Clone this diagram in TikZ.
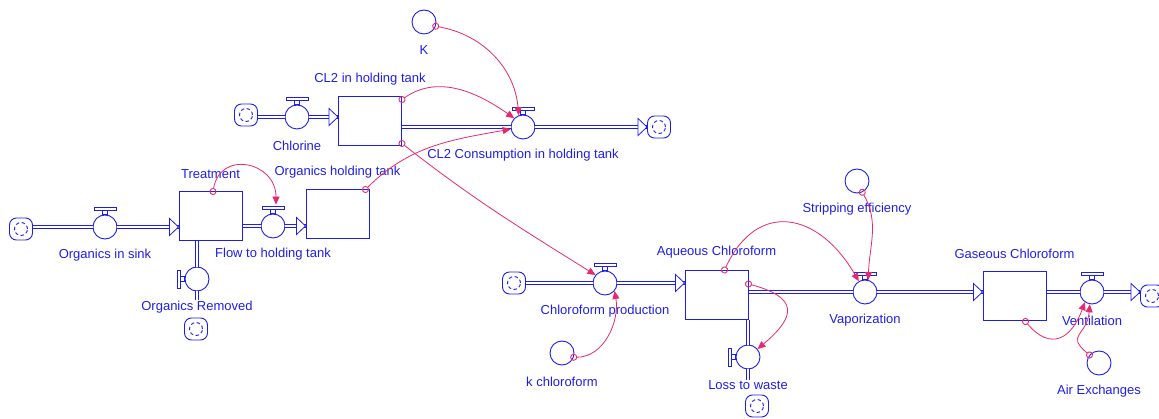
\documentclass[tikz,border=0pt]{standalone}
\usepackage{fontspec}
\setmainfont{Liberation Sans}
\usetikzlibrary{arrows.meta, positioning}
\definecolor{vblue}{RGB}{30,30,235}
\definecolor{vlink}{RGB}{232,40,110}
\newcommand{\handleup}[1]{\draw[vblue, line width=0.8pt, fill=white]
  ([xshift=-2.5pt]#1.north) rectangle ([xshift=2.5pt,yshift=4pt]#1.north)
  ([xshift=-11pt,yshift=4pt]#1.north) rectangle ([xshift=11pt,yshift=7.5pt]#1.north);}
\newcommand{\handleleft}[1]{\draw[vblue, line width=0.8pt, fill=white]
  ([yshift=-2.5pt]#1.west) rectangle ([yshift=2.5pt,xshift=-4pt]#1.west)
  ([yshift=-9pt,xshift=-4pt]#1.west) rectangle ([yshift=9pt,xshift=-7.5pt]#1.west);}
\newcommand{\flowtip}[1]{\draw[vblue, line width=0.8pt, fill=white] (#1) -- ++(-9,-8.5) -- ++(0,17) -- cycle;}

\begin{document}
\begin{tikzpicture}[x=1pt, y=-1pt, node distance=28.5pt,
    stock/.style={draw=vblue, line width=1pt, fill=white, minimum width=63pt, minimum height=49pt, inner sep=0pt},
    valve/.style={circle, draw=vblue, line width=0.9pt, fill=white, minimum size=24pt, inner sep=0pt},
    aux/.style={circle, draw=vblue, line width=0.9pt, minimum size=24pt, inner sep=0pt},
    srcsink/.style={draw=vblue, line width=0.9pt, rounded corners=7pt, minimum width=23pt, minimum height=22pt, inner sep=0pt,
      path picture={\draw[vblue, line width=0.9pt, dash pattern=on 3.5pt off 2.5pt] (path picture bounding box.center) circle (6.5pt);}},
    lbl/.style={text=vblue, font=\fontsize{13}{15}\selectfont, inner sep=1pt},
    pipe/.style={draw=vblue, line width=0.8pt, double=white, double distance=2pt},
    link/.style={vlink, line width=0.8pt, shorten <=-3.5pt, {Circle[open, length=7pt, width=7pt, line width=0.9pt]}-{Triangle[length=8pt, width=7pt]}}]
\useasboundingbox (0,0) rectangle (1159,419);

\node[stock] (treat) at (210.5,216.5) {};
\node[stock] (ohold) at (337.5,214.5) {};
\node[stock] (cl2) at (370,121.5) {};
\node[stock] (aq) at (716.5,295) {};
\node[stock] (gas) at (1014.5,296.5) {};

\node[valve] (vSink) at (105,227) {};
\node[valve] (vFlow) at (273,226) {};
\node[valve] (vRem) at (197,279) {};
\node[valve] (vChl) at (297,117) {};
\node[valve] (vCons) at (523,127) {};
\node[valve] (vProd) at (605,283) {};
\node[valve] (vLoss) at (748,357) {};
\node[valve] (vVap) at (865,292) {};
\node[valve] (vVent) at (1092,292) {};

\node[aux] (aK) at (424,22) {};
\node[aux] (aStrip) at (857,181) {};
\node[aux] (aKch) at (562,353) {};
\node[aux] (aAir) at (1099,363) {};

\node[srcsink] (c1) at (21,229) {};
\node[srcsink] (c2) at (246,115) {};
\node[srcsink] (c3) at (659,127) {};
\node[srcsink] (c4) at (196,329) {};
\node[srcsink] (c5) at (514,283) {};
\node[srcsink] (c6) at (757,406) {};
\node[srcsink] (c7) at (1152,296) {};

\node[lbl] (tSink) [below of=vSink] {Organics in sink};
\node[lbl] (tTreat) [above of=treat, node distance=42.5pt] {Treatment};
\node[lbl] (tFlow) [below of=vFlow] {Flow to holding tank};
\node[lbl] (tOhold) [above of=ohold, node distance=42.5pt] {Organics holding tank};
\node[lbl] (tRem) [below of=vRem] {Organics Removed};
\node[lbl] (tChl) [below of=vChl] {Chlorine};
\node[lbl] (tCl2) [above of=cl2, node distance=42.5pt] {CL2 in holding tank};
\node[lbl] (tK) [below of=aK] {K};
\node[lbl] (tCons) [below of=vCons] {CL2 Consumption in holding tank};
\node[lbl] (tProd) [below of=vProd] {Chloroform production};
\node[lbl] (tKch) [below of=aKch] {k chloroform};
\node[lbl] (tAq) [above of=aq, node distance=42.5pt] {Aqueous Chloroform};
\node[lbl] (tLoss) [below of=vLoss] {Loss to waste};
\node[lbl] (tStrip) [below of=aStrip] {Stripping efficiency};
\node[lbl] (tVap) [below of=vVap] {Vaporization};
\node[lbl] (tGas) [above of=gas, node distance=42.5pt] {Gaseous Chloroform};
\node[lbl] (tVent) [below of=vVent] {Ventilation};
\node[lbl] (tAir) [below of=aAir] {Air Exchanges};

\draw[pipe] (c1.east |- vSink) -- (vSink.west);
\draw[pipe] (vSink.east) -- (vSink -| treat.west);
\flowtip{vSink -| treat.west}
\draw[pipe] (treat.east |- vFlow) -- (vFlow.west);
\draw[pipe] (vFlow.east) -- (vFlow -| ohold.west);
\flowtip{vFlow -| ohold.west}
\draw[pipe] (vRem |- treat.south) -- (vRem.north);
\draw[pipe] (vRem.south) -- (vRem |- tRem.north);
\draw[pipe] (c2.east |- vChl) -- (vChl.west);
\draw[pipe] (vChl.east) -- (vChl -| cl2.west);
\flowtip{vChl -| cl2.west}
\draw[pipe] (cl2.east |- vCons) -- (vCons.west);
\draw[pipe] (vCons.east) -- (vCons -| c3.west);
\flowtip{vCons -| c3.west}
\draw[pipe] (c5.east |- vProd) -- (vProd.west);
\draw[pipe] (vProd.east) -- (vProd -| aq.west);
\flowtip{vProd -| aq.west}
\draw[pipe] (aq.east |- vVap) -- (vVap.west);
\draw[pipe] (vVap.east) -- (vVap -| gas.west);
\flowtip{vVap -| gas.west}
\draw[pipe] (vLoss |- aq.south) -- (vLoss.north);
\draw[pipe] (vLoss.south) -- (vLoss |- tLoss.north);
\draw[pipe] (gas.east |- vVent) -- (vVent.west);
\draw[pipe] (vVent.east) -- (vVent -| c7.west);
\flowtip{vVent -| c7.west}

\handleup{vSink} \handleup{vFlow} \handleup{vChl} \handleup{vCons}
\handleup{vProd} \handleup{vVap} \handleup{vVent}
\handleleft{vRem} \handleleft{vLoss}

\draw[link] ([xshift=2.5pt]treat.north) to[out=80, in=90, looseness=1.7] ([xshift=3pt,yshift=9pt]vFlow.north);
\draw[link] ([xshift=-4pt]ohold.north east) to[out=45, in=190] (vCons.190);
\draw[link] ([yshift=-3pt]cl2.north east) to[out=35, in=145] (vCons.135);
\draw[link] (aK.-20) to[out=-10, in=95] (vCons.110);
\draw[link] ([yshift=3pt]cl2.south east) to[out=-38, in=148] (vProd.140);
\draw[link] (aKch.-20) to[out=0, in=-80] (vProd.-40);
\draw[link] ([xshift=8pt]aq.north) to[out=65, in=120, looseness=1.5] (vVap.120);
\draw[link] ([yshift=-14pt]aq.north east) to[out=-15, in=40, looseness=2] (vLoss.40);
\draw[link] (aStrip.-65) to[out=-60, in=88] (vVap.75);
\draw[link] ([xshift=11pt]gas.south) to[out=-50, in=-110, looseness=1.6] (vVent.-125);
\draw[link] (aAir.140) to[out=140, in=-95, looseness=1.6] (vVent.-100);
\end{tikzpicture}
\end{document}
